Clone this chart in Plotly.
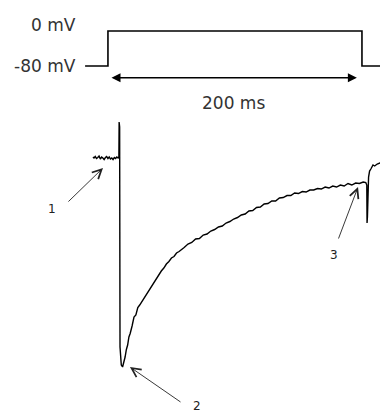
import plotly.graph_objects as go

# ---- voltage protocol (ms, mV) ----
volt_t = [-18, 0, 0, 200, 200, 220]
volt_v = [-80, -80, 0, 0, -80, -80]
volt_labels = ["0 mV", "-80 mV"]
volt_label_v = [14, -80]
pulse_label = "200 ms"
pulse_arrow_t = [1.6, 196]
pulse_arrow_v = -107
pulse_label_v = -164

# ---- current trace (ms, pA) ----
cur_t = [-11.8, -11, -10, -9, -8, -7, -6, -5, -4, -3, -2, -1, 0, 1, 2, 3, 4, 5, 6, 7, 8, 8.6,
         8.8, 9.0, 9.2, 9.5, 10.5, 11.5, 12.5,
         13.5, 14.5, 15.5, 16.5, 17.5, 19, 20.5, 22, 23.5, 25, 26.5, 28, 30, 32, 34, 36, 38, 40,
         42, 44, 46, 48, 50, 52, 54, 56, 58, 60, 63, 66, 69, 72, 75, 78, 81, 84, 87, 90, 93, 96,
         99, 102, 105, 108, 111, 114, 117, 120, 123, 126, 129, 132, 135, 138, 141, 144, 147, 150,
         153, 156, 159, 162, 165, 168, 171, 174, 177, 180, 183, 186, 189, 192, 195, 198, 201, 203,
         203.8, 204.0, 204.3, 205.2, 206, 207, 208.7, 210, 212, 214, 216, 218, 220.5]
cur_i = [0, -10, 5, -15, -5, 10, -20, 0, -10, -25, -5, 5, -15, 0, -20, -10, -25, -5, -15, 0, -10, 0,
         350, 340, 300, -1900, -2080, -2100, -2060,
         -2000, -1925, -1880, -1800, -1765, -1690, -1600, -1580, -1505, -1480, -1450, -1410, -1370,
         -1340, -1290, -1255, -1220, -1175, -1140, -1110, -1070, -1045, -1010, -995, -960, -945,
         -920, -905, -870, -855, -820, -815, -780, -770, -740, -725, -700, -690, -660, -645, -620,
         -605, -580, -570, -540, -535, -505, -500, -470, -465, -440, -440, -410, -405, -385, -385,
         -360, -365, -345, -350, -330, -330, -315, -320, -300, -310, -290, -300, -280, -290, -265,
         -280, -260, -265, -250, -255,
         -280, -660, -600, -200, -140, -120, -80, -90, -70, -60, -70, -50, -50]

# ---- numbered arrows ----
arrow_labels = ["1", "2", "3"]
arrow_head_t = [-3.9, 17.3, 196.9]
arrow_head_i = [-110, -2100, -300]
arrow_tail_t = [-32.3, 58.3, 181.1]
arrow_tail_i = [-460, -2460, -830]
label_t = [-44, 70, 178]
label_i = [-520, -2490, -980]

fig = go.Figure()
fig.add_trace(go.Scatter(x=volt_t, y=volt_v, mode="lines", xaxis="x", yaxis="y2",
                         line=dict(color="black", width=1.6), hoverinfo="skip"))
fig.add_trace(go.Scatter(x=cur_t, y=cur_i, mode="lines", xaxis="x", yaxis="y",
                         line=dict(color="black", width=1.4), hoverinfo="skip"))

ann = []
font_big = dict(family="DejaVu Sans", size=17, color="#333")
for lab, v in zip(volt_labels, volt_label_v):
    ann.append(dict(x=-23.6, y=v, xref="x", yref="y2", text=lab, showarrow=False,
                    xanchor="right", yanchor="middle", font=font_big))
ann.append(dict(x=(pulse_arrow_t[0] + pulse_arrow_t[1]) / 2, y=pulse_label_v, xref="x", yref="y2",
                text=pulse_label, showarrow=False, font=font_big))
ann.append(dict(x=pulse_arrow_t[1], y=pulse_arrow_v, ax=pulse_arrow_t[0], ay=pulse_arrow_v,
                xref="x", yref="y2", axref="x", ayref="y2", text="", showarrow=True,
                arrowhead=2, startarrowhead=2, arrowside="end+start", arrowsize=1.2,
                startarrowsize=1.2, arrowwidth=1.5, arrowcolor="black"))
for k in range(3):
    ann.append(dict(x=arrow_head_t[k], y=arrow_head_i[k], ax=arrow_tail_t[k], ay=arrow_tail_i[k],
                    xref="x", yref="y", axref="x", ayref="y", text="", showarrow=True,
                    arrowhead=5, arrowsize=2.0, arrowwidth=0.9, arrowcolor="#222"))
    ann.append(dict(x=label_t[k], y=label_i[k], xref="x", yref="y", text=arrow_labels[k],
                    showarrow=False, font=dict(family="DejaVu Sans", size=12, color="#222")))

# page body has an 8 px margin: figure covers screen pixels 8..388 / 8..412
fig.update_layout(
    width=380, height=404, margin=dict(l=0, r=0, t=0, b=0),
    paper_bgcolor="white", plot_bgcolor="white", showlegend=False,
    xaxis=dict(range=[-78.7, 220.5], visible=False, domain=[0, 1]),
    yaxis=dict(range=[-2550, 420], visible=False, domain=[0, 0.7351]),
    yaxis2=dict(range=[-192, 52.6], visible=False, domain=[0.7351, 1], anchor="x"),
    annotations=ann,
)
fig.write_html("out.html")
